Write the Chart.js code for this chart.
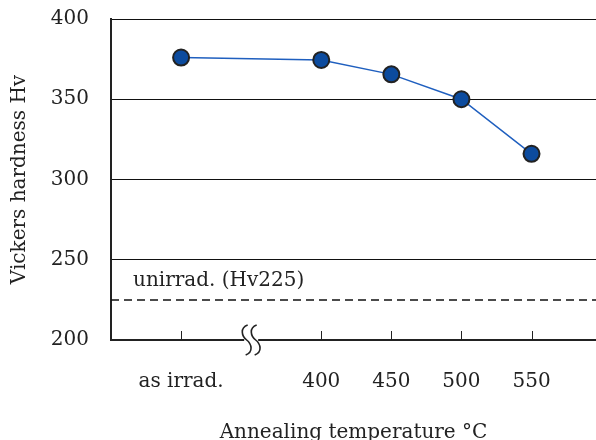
<!DOCTYPE html>
<html>
<head>
<meta charset="utf-8">
<script src="https://cdn.jsdelivr.net/npm/chart.js@4"></script>
<style>
  html, body { margin: 0; padding: 0; background: #fff; }
  #wrap { width: 596px; height: 440px; }
</style>
</head>
<body>
<div id="wrap"><canvas id="hvChart" width="596" height="440"></canvas></div>
<script>
// data
const categories = ['as irrad.', '400', '450', '500', '550'];
const tempPositions = [300, 400, 450, 500, 550]; // "as irrad." sits left of the axis break
const hardness = [376, 374.5, 365.5, 350, 316];
const unirradHv = 225;
const unirradLabel = 'unirrad. (Hv225)';
const yTicks = [200, 250, 300, 350, 400];
const breakAt = 350;

const FONT = 'DejaVu Serif';
const xMin = 250, xMax = 596;

// inward x ticks, axis break symbol and the unirradiated label
const extras = {
  id: 'extras',
  afterDraw(chart) {
    const c = chart.ctx;
    const xs = chart.scales.x, ys = chart.scales.y;
    const bottom = ys.getPixelForValue(200);
    c.save();
    c.strokeStyle = '#222';
    c.lineWidth = 1;
    tempPositions.forEach(v => {
      const px = Math.round(xs.getPixelForValue(v)) + 0.5;
      c.beginPath();
      c.moveTo(px, bottom);
      c.lineTo(px, bottom - 9);
      c.stroke();
    });
    // break symbol
    const bx = xs.getPixelForValue(breakAt);
    c.fillStyle = '#fff';
    c.fillRect(bx - 7, bottom - 3, 14, 6);
    c.lineWidth = 1.6;
    [-4.5, 4.5].forEach(off => {
      const x0 = bx + off;
      c.beginPath();
      c.moveTo(x0 + 1, bottom - 15);
      c.bezierCurveTo(x0 - 7, bottom - 12, x0 - 5, bottom - 4, x0, bottom);
      c.bezierCurveTo(x0 + 5, bottom + 4, x0 + 7, bottom + 12, x0 - 1, bottom + 15);
      c.stroke();
    });
    // label above dashed line
    c.fillStyle = '#222';
    c.font = '20px "' + FONT + '"';
    c.textBaseline = 'middle';
    c.textAlign = 'left';
    c.fillText(unirradLabel, xs.left + 22, ys.getPixelForValue(unirradHv) - 19);
    c.restore();
  }
};

const ctx = document.getElementById('hvChart').getContext('2d');
new Chart(ctx, {
  type: 'scatter',
  data: {
    datasets: [
      {
        label: 'Hv',
        data: tempPositions.map((x, i) => ({ x: x, y: hardness[i] })),
        showLine: true,
        borderColor: '#1f5fbf',
        borderWidth: 1.5,
        pointRadius: 8,
        pointBackgroundColor: '#0c4b9e',
        pointBorderColor: '#222',
        pointBorderWidth: 2,
      },
      {
        label: 'unirrad.',
        data: [{ x: xMin, y: unirradHv }, { x: xMax, y: unirradHv }],
        showLine: true,
        borderColor: '#111',
        borderWidth: 1.5,
        borderDash: [8, 5],
        pointRadius: 0,
      },
    ],
  },
  options: {
    responsive: false,
    animation: false,
    layout: { autoPadding: false, padding: { top: 0, right: 0, left: 8, bottom: 0 } },
    plugins: { legend: { display: false }, tooltip: { enabled: false } },
    scales: {
      x: {
        type: 'linear',
        min: xMin,
        max: xMax,
        afterBuildTicks: s => { s.ticks = tempPositions.map(v => ({ value: v })); },
        afterFit: s => { s.height = 100; },
        grid: { display: false, drawTicks: false },
        border: { display: true, color: '#222', width: 2 },
        ticks: {
          padding: 30,
          color: '#222',
          font: { family: FONT, size: 20 },
          callback: v => categories[tempPositions.indexOf(v)],
        },
        title: {
          display: true,
          text: 'Annealing temperature °C',
          color: '#222',
          font: { family: FONT, size: 20 },
          padding: { top: 21, bottom: -5 },
        },
      },
      y: {
        min: 200,
        max: 400,
        afterBuildTicks: s => { s.ticks = yTicks.map(v => ({ value: v })); },
        afterFit: s => { s.width = 103; s.paddingTop = 19; s.paddingBottom = 0; },
        grid: { color: '#111', lineWidth: 1, drawTicks: false },
        border: { display: true, color: '#222', width: 2 },
        ticks: {
          padding: 22,
          color: '#222',
          font: { family: FONT, size: 20 },
        },
        title: {
          display: true,
          text: 'Vickers hardness Hv',
          color: '#222',
          font: { family: FONT, size: 20 },
          padding: 0,
        },
      },
    },
  },
  plugins: [extras],
});
</script>
</body>
</html>
